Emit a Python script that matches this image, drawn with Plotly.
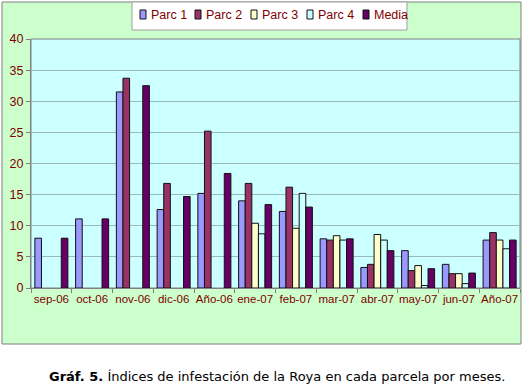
import plotly.graph_objects as go

categories = ["sep-06", "oct-06", "nov-06", "dic-06", "Año-06", "ene-07", "feb-07",
              "mar-07", "abr-07", "may-07", "jun-07", "Año-07"]
parc1 = [8.0, 11.1, 31.5, 12.6, 15.2, 14.0, 12.3, 7.9, 3.3, 6.0, 3.8, 7.7]
parc2 = [None, None, 33.7, 16.8, 25.2, 16.8, 16.2, 7.7, 3.8, 2.8, 2.3, 8.9]
parc3 = [None, None, None, None, None, 10.4, 9.6, 8.4, 8.6, 3.6, 2.3, 7.7]
parc4 = [None, None, None, None, None, 8.7, 15.2, 7.7, 7.7, 0.4, 0.7, 6.3]
media = [8.0, 11.1, 32.5, 14.7, 18.4, 13.4, 13.0, 7.9, 6.0, 3.1, 2.4, 7.7]
y_ticks = [0, 5, 10, 15, 20, 25, 30, 35, 40]

series = [("Parc 1", parc1, "#9999FF"), ("Parc 2", parc2, "#993366"),
          ("Parc 3", parc3, "#FFFFCC"), ("Parc 4", parc4, "#CCFFFF"),
          ("Media", media, "#660066")]

W, H = 524, 388
L, R, T, B = 31, 4, 39, 100
pw, ph = W - L - R, H - T - B

def px2x(px):
    return (px - L) / pw

def py2y(py):
    return (H - B - py) / ph

fig = go.Figure()
for name, vals, col in series:
    fig.add_trace(go.Bar(x=categories, y=vals, name=name, showlegend=False,
                         marker=dict(color=col, line=dict(color="#111111", width=1))))

txt = "#800000"
font_fam = "Liberation Sans, Arial"

shapes = [
    dict(type="rect", xref="paper", yref="paper", layer="below",
         x0=px2x(2), x1=px2x(521), y0=py2y(344), y1=py2y(2),
         fillcolor="#CCFFCC", line=dict(color="#808080", width=1)),
    dict(type="rect", xref="paper", yref="paper", layer="below",
         x0=0, x1=1, y0=0, y1=1,
         fillcolor="#CCFFFF", line=dict(color="#808080", width=1)),
    # legend box
    dict(type="rect", xref="paper", yref="paper", layer="above",
         x0=px2x(132), x1=px2x(407), y0=py2y(30), y1=py2y(2),
         fillcolor="white", line=dict(color="#A0A0A0", width=1)),
]

annotations = []
legend_x = [140, 195, 251, 307, 363]
for (name, vals, col), lx in zip(series, legend_x):
    shapes.append(dict(type="rect", xref="paper", yref="paper", layer="above",
                       x0=px2x(lx), x1=px2x(lx + 6), y0=py2y(19), y1=py2y(10),
                       fillcolor=col, line=dict(color="#111111", width=1)))
    annotations.append(dict(xref="paper", yref="paper", x=px2x(lx + 9), y=py2y(15),
                            xanchor="left", yanchor="middle", showarrow=False,
                            text=name, font=dict(family=font_fam, size=12.5, color=txt)))

annotations.append(dict(xref="paper", yref="paper", x=px2x(277), y=py2y(376),
                        xanchor="center", yanchor="middle", showarrow=False,
                        text="<b>Gráf. 5.</b> Índices de infestación de la Roya en cada parcela por meses.",
                        font=dict(family="DejaVu Sans, Verdana", size=13, color="#000000")))

fig.update_layout(
    width=W, height=H,
    margin=dict(l=L, r=R, t=T, b=B, autoexpand=False),
    paper_bgcolor="white",
    plot_bgcolor="rgba(0,0,0,0)",
    barmode="group", bargap=0.19, bargroupgap=0,
    shapes=shapes,
    annotations=annotations,
    font=dict(family=font_fam, color=txt, size=12),
    showlegend=False,
    hovermode=False,
    xaxis=dict(type="category", tickson="boundaries", ticks="outside", ticklen=4,
               tickcolor="#808080", showline=True, linecolor="#808080",
               tickangle=0, automargin=False,
               tickfont=dict(size=11.5, color=txt), showgrid=False, fixedrange=True),
    yaxis=dict(range=[0, 40], tickvals=y_ticks, ticks="outside", ticklen=4,
               tickcolor="#808080", showline=True, linecolor="#808080",
               gridcolor="#99BBBB", gridwidth=1, zeroline=False, automargin=False,
               tickfont=dict(size=12.5, color=txt)),
)

fig.write_html("out.html", config={"displayModeBar": False},
               post_script="document.body.style.margin='0px';document.body.style.overflow='hidden';")
